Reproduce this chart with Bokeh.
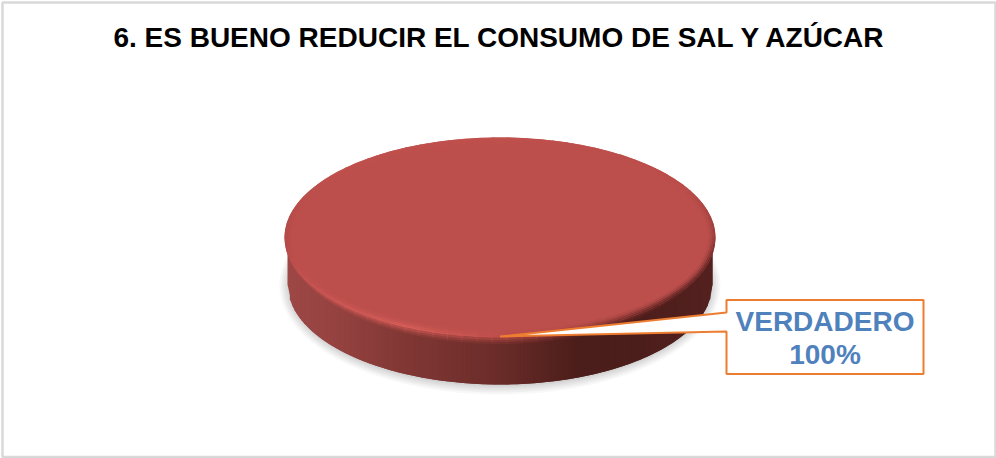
import numpy as np
from bokeh.embed import file_html
from bokeh.models import Range1d
from bokeh.plotting import figure
from bokeh.resources import INLINE
from bokeh.core.properties import value

# Survey result
title_text = "6. ES BUENO REDUCIR EL CONSUMO DE SAL Y AZÚCAR"
categories = ["VERDADERO"]
values = [100]
percent_labels = ["100%"]

# Disc geometry on a page-sized scale
CX, CY, RX, RY, DEPTH = 499.5, 237.0, 215.5, 100.0, 47.0
WALL_RX = RX - 3
TOP = (188, 79, 76)

# Shading tables: position -> colour
SIDE_X = [284, 340, 400, 450, 500, 540, 575, 640, 715]
SIDE_RGB = [(158, 72, 70), (148, 66, 64), (130, 56, 53), (118, 50, 47), (106, 44, 41),
            (90, 36, 33), (76, 30, 27), (76, 30, 27), (84, 33, 31)]
RIM_DEG = [0, 12, 35, 60, 85, 115, 150, 180, 215, 270, 330, 360]
RIM_RGB = [(150, 60, 58), (110, 44, 42), (96, 38, 36), (128, 50, 47), (186, 75, 72), (216, 95, 90),
           (200, 85, 82), (176, 74, 72), (192, 81, 77), (192, 81, 77), (186, 77, 74), (150, 60, 58)]


def css(rgb):
    return "#%02x%02x%02x" % tuple(int(round(c)) for c in rgb)


def mix(pos, table_x, table_rgb):
    return [float(np.interp(pos, table_x, [c[i] for c in table_rgb])) for i in range(3)]


p = figure(width=996, height=458, output_backend="svg", toolbar_location=None,
           x_range=Range1d(0, 996), y_range=Range1d(458, 0), min_border=0,
           background_fill_color="white", border_fill_color="white", outline_line_color=None)
p.axis.visible = False
p.grid.visible = False

# Chart frame
p.quad(left=[2], right=[995], top=[2], bottom=[456.5], fill_color=None,
       line_color="#d9d9d9", line_width=2.5)

# Soft cast shadow
for grow, alpha in zip([11, 9, 7, 5, 3, 1], [0.06, 0.07, 0.08, 0.09, 0.10, 0.12]):
    t = np.linspace(0, 2 * np.pi, 200)
    p.patch(CX + (RX + grow - 6) * np.cos(t), CY + DEPTH + 1 + (RY + grow - 2) * np.sin(t),
            fill_color="#808080", fill_alpha=alpha, line_color=None)

# Side wall as vertical strips; each one runs under the next so no seams show
share = values[0] / sum(values)
wall_edge = np.linspace(-1, 1, 180)
for e0, e1 in zip(wall_edge[:-1], wall_edge[1:]):
    x0, x1 = CX + WALL_RX * e0, CX + WALL_RX * e1
    reach = min(1.0, e1 + 0.012)
    x2 = CX + WALL_RX * reach
    h0 = RY * np.sqrt(max(0.0, 1 - e0 ** 2))
    h2 = RY * np.sqrt(max(0.0, 1 - reach ** 2))
    colour = css(mix((x0 + x1) / 2, SIDE_X, SIDE_RGB))
    p.patch([x0, x2, x2, x0], [CY, CY, CY + DEPTH + h2, CY + DEPTH + h0],
            fill_color=colour, line_color=None)

# Glow of the bevel falling onto the upper part of the wall
deg = np.arange(0, 360, 4.0)
for drop0, drop1, alpha in [(4.5, 6.5, 0.15), (2.5, 4.5, 0.35), (0.0, 2.5, 0.6)]:
    for d in deg[deg < 180]:
        a = np.radians([d, d + 4.2])
        rgb = mix(d + 2, RIM_DEG, RIM_RGB)
        x_arc = CX + RX * np.cos(a)
        y_arc = CY + RY * np.sin(a)
        lift = np.sin(a)
        p.patch([x_arc[0], x_arc[1], x_arc[1], x_arc[0]],
                [y_arc[0] + drop0 * lift[0], y_arc[1] + drop0 * lift[1],
                 y_arc[1] + drop1 * lift[1], y_arc[0] + drop1 * lift[0]],
                fill_color=css(rgb), fill_alpha=alpha, line_color=None)

# Top face of the single slice
sweep = np.linspace(0, 2 * np.pi * share, 240)
p.patch(CX + RX * np.cos(sweep), CY + RY * np.sin(sweep), fill_color=css(TOP), line_color=None)

# Bevelled rim, shaded by angle and fading into the top face
steps = [(0.0, 1.7, 0.0), (1.7, 3.4, 0.3), (3.4, 5.1, 0.6), (5.1, 7.0, 0.85)]
for inset0, inset1, fade in steps:
    for d in deg:
        a = np.radians([d, d + 4.4])
        rgb = [(1 - fade) * c + fade * t for c, t in zip(mix(d + 2, RIM_DEG, RIM_RGB), TOP)]
        ox, oy = CX + (RX - inset0) * np.cos(a), CY + (RY - inset0) * np.sin(a)
        ix, iy = CX + (RX - inset1) * np.cos(a), CY + (RY - inset1) * np.sin(a)
        p.patch([ox[0], ox[1], ix[1], ix[0]], [oy[0], oy[1], iy[1], iy[0]],
                fill_color=css(rgb), line_color=None)

# Data callout with its pointer
p.patch([726, 726, 923, 923, 726, 726, 499.5],
        [312, 299.5, 299.5, 373.5, 373.5, 331, 336],
        fill_color="white", line_color="#ED7D31", line_width=2)

p.text(x=[824.5], y=[321], text=categories, text_font=value("Liberation Sans"), text_font_style="bold",
       text_font_size="28px", text_color="#4F81BD", text_align="center", text_baseline="middle")
p.text(x=[824.5], y=[354], text=percent_labels, text_font=value("Liberation Sans"), text_font_style="bold",
       text_font_size="28px", text_color="#4F81BD", text_align="center", text_baseline="middle")

# Heading
p.text(x=[499.5], y=[37], text=[title_text], text_font=value("Liberation Sans"), text_font_style="bold",
       text_font_size="28px", text_color="black", text_align="center", text_baseline="middle")

open("out.html", "w").write(file_html(p, INLINE))
